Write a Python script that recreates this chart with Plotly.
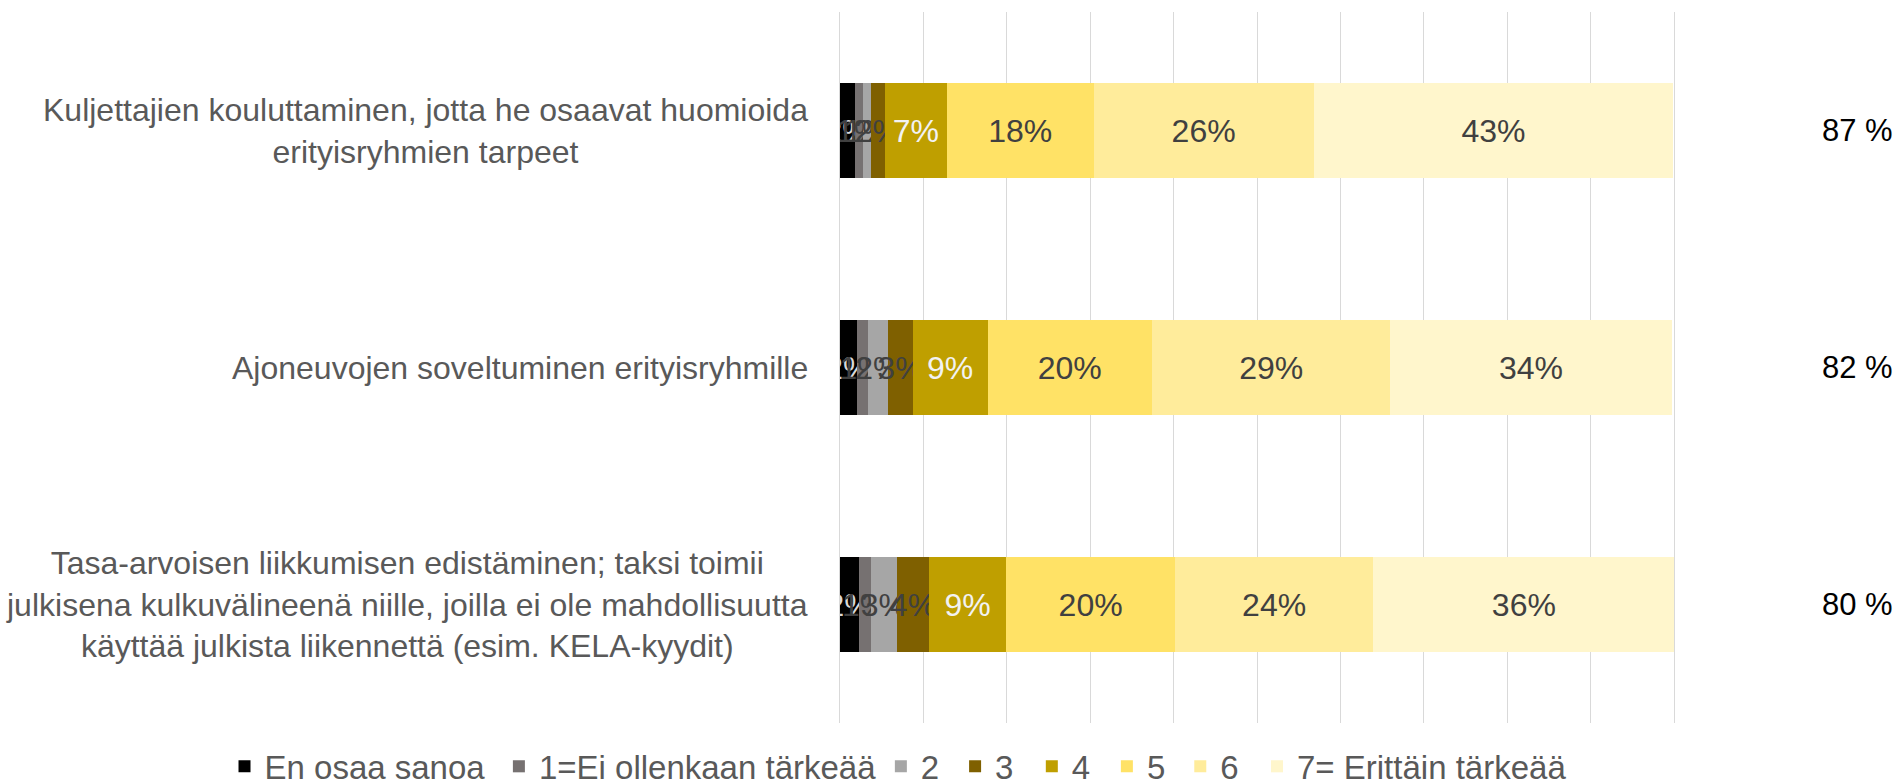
import plotly.graph_objects as go

categories = [
    "Kuljettajien kouluttaminen, jotta he osaavat huomioida<br>erityisryhmien tarpeet",
    "Ajoneuvojen soveltuminen erityisryhmille",
    "Tasa-arvoisen liikkumisen edistäminen; taksi toimii<br>julkisena kulkuvälineenä niille, joilla ei ole mahdollisuutta<br>käyttää julkista liikennettä (esim. KELA-kyydit)",
]
cat_keys = ["c1", "c2", "c3"]

series_names = ["En osaa sanoa", "1=Ei ollenkaan tärkeää", "2", "3", "4", "5", "6", "7= Erittäin tärkeää"]
values = {
    "En osaa sanoa":          [0.018, 0.020, 0.023],
    "1=Ei ollenkaan tärkeää": [0.010, 0.014, 0.014],
    "2":                      [0.009, 0.024, 0.031],
    "3":                      [0.017, 0.029, 0.039],
    "4":                      [0.074, 0.090, 0.092],
    "5":                      [0.176, 0.197, 0.203],
    "6":                      [0.264, 0.286, 0.237],
    "7= Erittäin tärkeää":    [0.431, 0.337, 0.362],
}
totals = ["87 %", "82 %", "80 %"]

colors = ["#000000", "#767171", "#A6A6A6", "#7F6000", "#BF9F00", "#FFE266", "#FFEC9B", "#FFF6CC"]
text_colors = ["#D9D9D9", "#404040", "#404040", "#404040", "#F2F2F2", "#404040", "#404040", "#404040"]

# horizontal positions (paper fraction) of each legend entry, matching reference spacing
legend_x = [-0.738, -0.409, 0.049, 0.138, 0.230, 0.320, 0.408, 0.500]

FONT = "Liberation Sans, Arial, sans-serif"
GRID = "#D9D9D9"

fig = go.Figure()
for i, (name, col, tcol) in enumerate(zip(series_names, colors, text_colors)):
    fig.add_trace(go.Bar(
        name=name, y=cat_keys, x=values[name], orientation="h",
        marker=dict(color=col, line=dict(width=0)),
        text=values[name], texttemplate="%{x:.0%}",
        textposition="inside", insidetextanchor="middle",
        constraintext="none", textangle=0,
        textfont=dict(family=FONT, size=32, color=tcol),
        width=0.4,
        legend="legend" if i == 0 else f"legend{i+1}",
    ))

annotations = []
for key, lab in zip(cat_keys, categories):
    annotations.append(dict(
        x=0, xref="paper", y=key, yref="y", xanchor="right", yanchor="middle",
        xshift=-30, text=lab, align="center", showarrow=False,
        font=dict(family=FONT, size=32, color="#595959"),
    ))
for key, t in zip(cat_keys, totals):
    annotations.append(dict(
        x=1.22, xref="paper", y=key, yref="y", xanchor="center", yanchor="middle",
        text=t, showarrow=False,
        font=dict(family=FONT, size=31, color="#000000"),
    ))

legends = {}
for i, lx in enumerate(legend_x):
    key = "legend" if i == 0 else f"legend{i+1}"
    legends[key] = dict(orientation="h", x=lx, y=-0.061, xanchor="left", yanchor="middle",
                        font=dict(family=FONT, size=33, color="#595959"),
                        itemwidth=30, bgcolor="rgba(0,0,0,0)")

fig.update_layout(
    barmode="stack",
    width=1899, height=781,
    margin=dict(l=840, r=225, t=12, b=58, autoexpand=False),
    paper_bgcolor="white", plot_bgcolor="white",
    font=dict(family=FONT, size=32, color="#595959"),
    xaxis=dict(range=[0, 1], dtick=0.1, showgrid=True, gridcolor=GRID, gridwidth=1.3,
               showticklabels=False, zeroline=False, showline=False, ticks=""),
    yaxis=dict(autorange="reversed", showticklabels=False, showgrid=False, zeroline=False,
               ticks="", categoryorder="array", categoryarray=cat_keys,
               showline=True, mirror=True, linecolor=GRID, linewidth=1.3),
    annotations=annotations,
    showlegend=True,
    **legends,
)
fig.write_html("out.html", config={"displayModeBar": False},
               post_script="document.body.style.margin='0px';document.body.style.overflow='hidden';")
